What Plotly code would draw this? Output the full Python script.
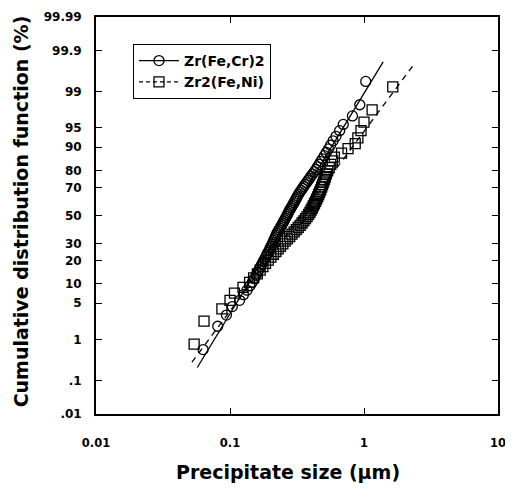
import plotly.graph_objects as go
from statistics import NormalDist

# ---- data ----
crfe_p = [0.6, 1.9, 3.1, 4.4, 5.6, 6.9, 8.1, 9.4, 10.6, 11.9, 13.1, 14.4, 15.6, 16.9, 18.1, 19.4,
          20.6, 21.9, 23.1, 24.4, 25.6, 26.9, 28.1, 29.4, 30.6, 31.9, 33.1, 34.4, 35.6, 36.9, 38.1, 39.4,
          40.6, 41.9, 43.1, 44.4, 45.6, 46.9, 48.1, 49.4, 50.6, 51.9, 53.1, 54.4, 55.6, 56.9, 58.1, 59.4,
          60.6, 61.9, 63.1, 64.4, 65.6, 66.9, 68.1, 69.4, 70.6, 71.9, 73.1, 74.4, 75.6, 76.9, 78.1, 79.4,
          80.6, 81.9, 83.1, 84.4, 85.6, 86.9, 88.1, 89.4, 90.6, 91.9, 93.1, 94.4, 95.6, 96.9, 98.1, 99.4]
crfe_x = [0.063, 0.081, 0.094, 0.104, 0.118, 0.126, 0.134, 0.141, 0.147, 0.152, 0.157, 0.161, 0.165, 0.169, 0.173, 0.177,
          0.181, 0.185, 0.188, 0.192, 0.196, 0.199, 0.202, 0.206, 0.209, 0.212, 0.215, 0.218, 0.221, 0.224, 0.228, 0.232,
          0.236, 0.240, 0.244, 0.248, 0.252, 0.256, 0.260, 0.264, 0.268, 0.272, 0.276, 0.280, 0.285, 0.290, 0.295, 0.300,
          0.305, 0.310, 0.315, 0.320, 0.326, 0.332, 0.339, 0.347, 0.355, 0.363, 0.372, 0.382, 0.392, 0.402, 0.414, 0.426,
          0.438, 0.450, 0.463, 0.476, 0.490, 0.506, 0.523, 0.543, 0.563, 0.588, 0.618, 0.658, 0.700, 0.820, 0.930, 1.030]

ni_p = [0.8, 2.4, 4.0, 5.6, 7.3, 8.9, 10.5, 12.1, 13.7, 15.3, 16.9, 18.5, 20.2, 21.8, 23.4, 25.0,
        26.6, 28.2, 29.8, 31.5, 33.1, 34.7, 36.3, 37.9, 39.5, 41.1, 42.7, 44.4, 46.0, 47.6, 49.2, 50.8,
        52.4, 54.0, 55.6, 57.3, 58.9, 60.5, 62.1, 63.7, 65.3, 66.9, 68.5, 70.2, 71.8, 73.4, 75.0, 76.6,
        78.2, 79.8, 81.5, 83.1, 84.7, 86.3, 87.9, 89.5, 91.1, 92.7, 94.4, 96.0, 97.6, 99.2]
ni_x = [0.054, 0.064, 0.087, 0.100, 0.108, 0.125, 0.140, 0.150, 0.160, 0.168, 0.176, 0.184, 0.193, 0.202, 0.211, 0.220,
        0.229, 0.238, 0.248, 0.258, 0.268, 0.279, 0.290, 0.301, 0.312, 0.323, 0.334, 0.345, 0.356, 0.366, 0.376, 0.386,
        0.395, 0.403, 0.411, 0.419, 0.427, 0.435, 0.443, 0.451, 0.459, 0.467, 0.475, 0.483, 0.491, 0.499, 0.507, 0.515,
        0.524, 0.536, 0.550, 0.565, 0.580, 0.600, 0.680, 0.760, 0.860, 0.900, 0.950, 1.000, 1.150, 1.640]

# fitted lines (end points)
crfe_fit_x = [0.057, 1.39]
crfe_fit_p = [0.22, 99.8]
ni_fit_x = [0.052, 2.32]
ni_fit_p = [0.3, 99.75]

y_tick_labels = ["99.99", "99.9", "99", "95", "90", "80", "70", "50", "30", "20", "10", "5", "1", ".1", ".01"]
x_tick_vals = [0.01, 0.1, 1, 10]
x_tick_text = ["0.01", "0.1", "1", "10"]

nd = NormalDist()
def probit(vals):
    return [nd.inv_cdf(v / 100.0) for v in vals]

FONT = "DejaVu Sans"

fig = go.Figure()
fig.add_trace(go.Scatter(x=crfe_fit_x, y=probit(crfe_fit_p), mode="lines",
                         line=dict(color="black", width=1.3), showlegend=False))
fig.add_trace(go.Scatter(x=ni_fit_x, y=probit(ni_fit_p), mode="lines",
                         line=dict(color="black", width=1.3, dash="6px,5px"), showlegend=False))
fig.add_trace(go.Scatter(x=ni_x, y=probit(ni_p), mode="markers",
                         marker=dict(symbol="square-open", size=10, color="black", line=dict(width=1.3)),
                         showlegend=False))
fig.add_trace(go.Scatter(x=crfe_x, y=probit(crfe_p), mode="markers",
                         marker=dict(symbol="circle-open", size=10, color="black", line=dict(width=1.3)),
                         showlegend=False))
# legend entries
fig.add_trace(go.Scatter(x=[None], y=[None], mode="lines+markers", name="Zr(Fe,Cr)2",
                         line=dict(color="black", width=1.3),
                         marker=dict(symbol="circle-open", size=10, color="black", line=dict(width=1.3))))
fig.add_trace(go.Scatter(x=[None], y=[None], mode="lines+markers", name="Zr2(Fe,Ni)",
                         line=dict(color="black", width=1.3, dash="4px,3px"),
                         marker=dict(symbol="square-open", size=10, color="black", line=dict(width=1.3))))

y_tick_vals = probit([float(t) for t in y_tick_labels])

# the page body has an 8px margin on every side: the figure is sized to fit inside the window
fig.update_layout(
    width=497, height=476,
    margin=dict(l=88, r=7, t=9, b=70, autoexpand=False),
    paper_bgcolor="white", plot_bgcolor="white",
    font=dict(family=FONT, color="black", size=12),
    legend=dict(x=0.092, y=0.932, xanchor="left", yanchor="top",
                bordercolor="black", borderwidth=1, bgcolor="white",
                font=dict(family=FONT, size=14, weight="bold"),
                itemwidth=40, tracegroupgap=0),
    xaxis=dict(type="log", range=[-2, 1], tickvals=x_tick_vals, ticktext=x_tick_text,
               showline=True, linecolor="black", linewidth=1.8, mirror="ticks", automargin=False,
               ticklabeloverflow="allow",
               ticks="inside", ticklen=6, tickcolor="black", tickwidth=1.3, showgrid=False, zeroline=False,
               tickfont=dict(family=FONT, size=11.5, weight="bold"), ticklabelstandoff=17),
    yaxis=dict(range=[nd.inv_cdf(0.0001), nd.inv_cdf(0.9999)], tickvals=y_tick_vals, ticktext=y_tick_labels,
               showline=True, linecolor="black", linewidth=1.8, mirror="ticks", automargin=False,
               ticklabeloverflow="allow",
               ticks="inside", ticklen=6, tickcolor="black", tickwidth=1.3, showgrid=False, zeroline=False,
               tickfont=dict(family=FONT, size=12, weight="bold"), ticklabelstandoff=10),
    annotations=[
        dict(text="Cumulative distribution function (%)", textangle=-90, xref="paper", yref="paper",
             x=-0.186, y=0.511, xanchor="center", yanchor="middle", showarrow=False,
             font=dict(family=FONT, size=19, weight="bold")),
        dict(text="Precipitate size (µm)", xref="paper", yref="paper",
             x=0.478, y=-0.147, xanchor="center", yanchor="middle", showarrow=False,
             font=dict(family=FONT, size=19, weight="bold")),
    ],
)

fig.write_html("out.html")
